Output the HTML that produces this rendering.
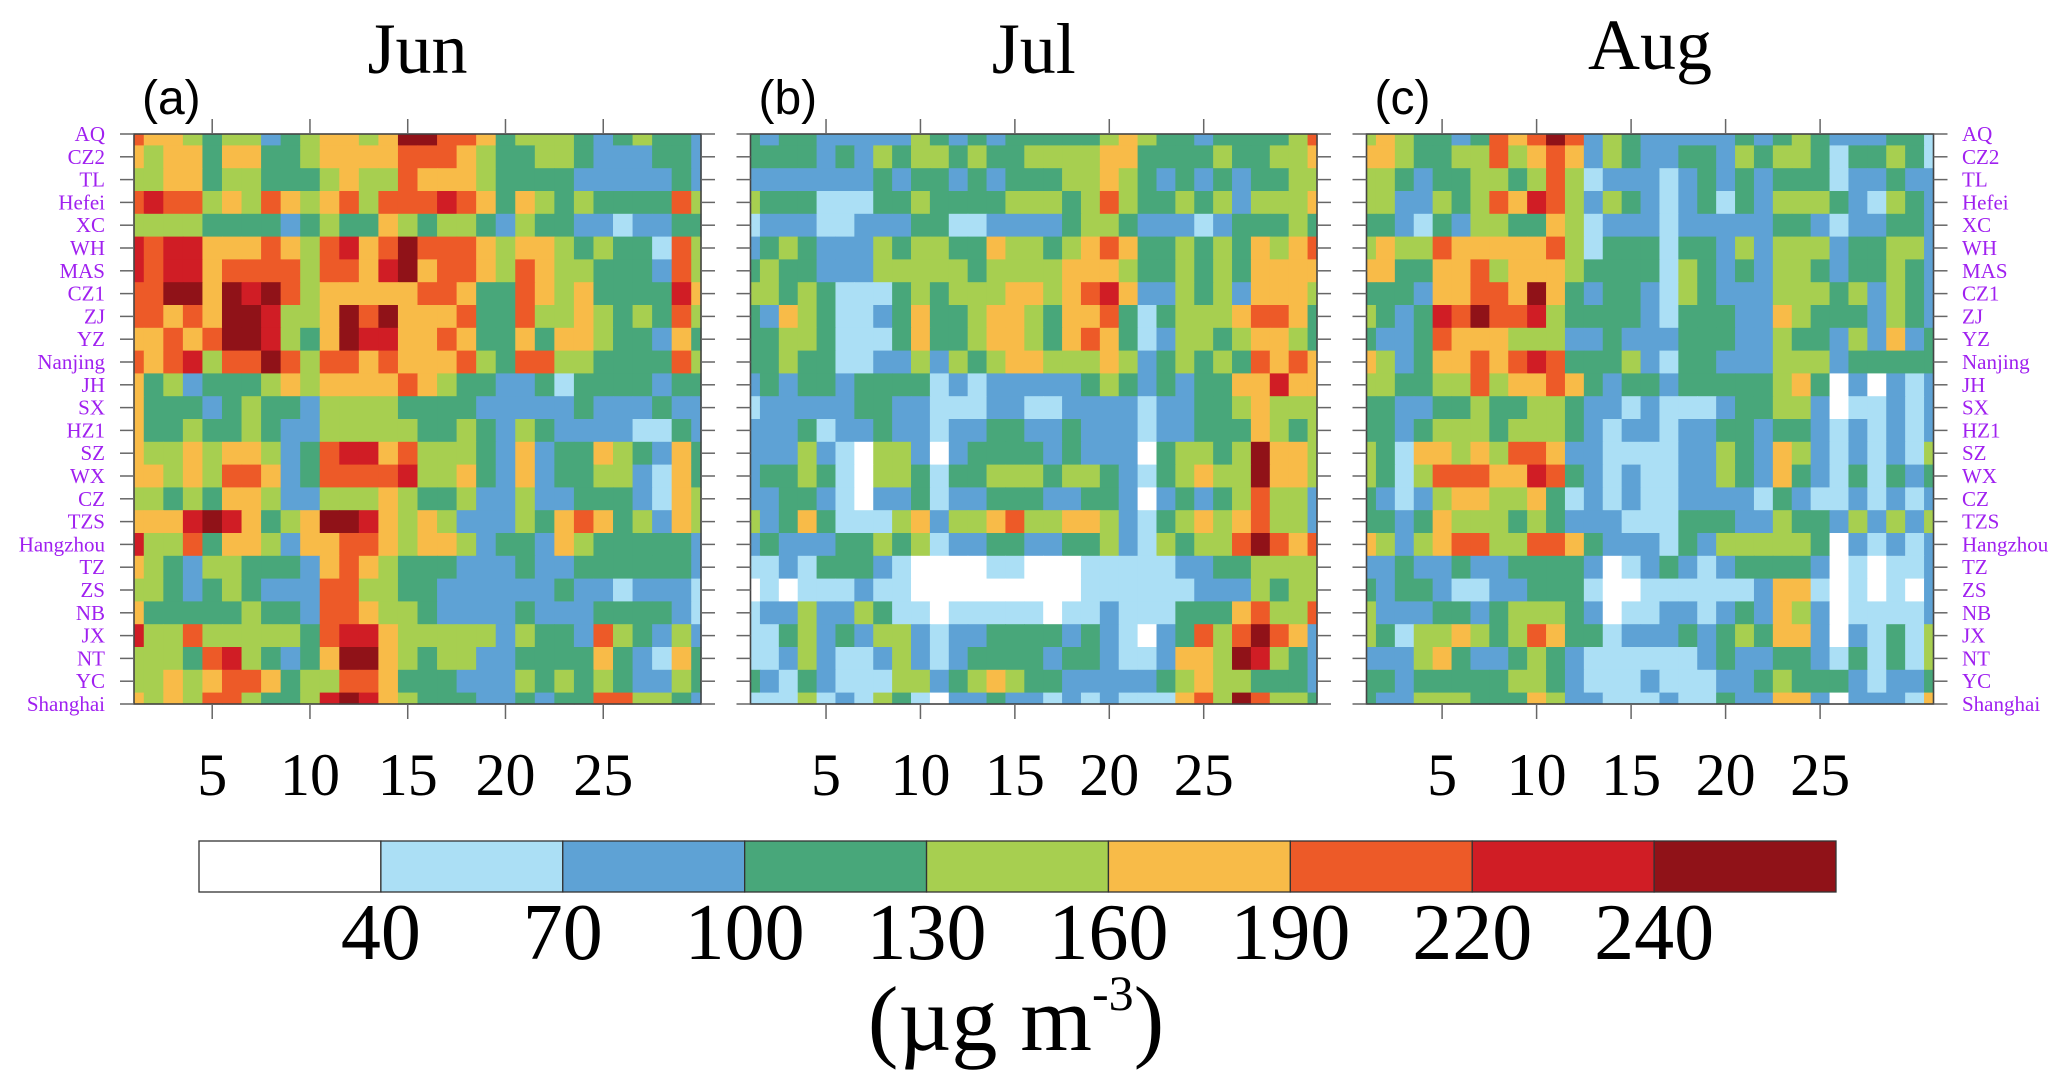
<!DOCTYPE html>
<html><head><meta charset="utf-8">
<style>
html,body{margin:0;padding:0;background:#fff;}
svg{display:block;}
</style></head>
<body>
<svg id="chart" width="2067" height="1092" viewBox="0 0 2067 1092" xmlns="http://www.w3.org/2000/svg"></svg>
<script>
const stations = ["AQ","CZ2","TL","Hefei","XC","WH","MAS","CZ1","ZJ","YZ","Nanjing","JH","SX","HZ1","SZ","WX","CZ","TZS","Hangzhou","TZ","ZS","NB","JX","NT","YC","Shanghai"];
const monthNames = ["Jun","Jul","Aug"];
const panelTags = ["(a)","(b)","(c)"];
const dayTicks = [5,10,15,20,25];
const levels = [40,70,100,130,160,190,220,240];
const levelLabels = ["40","70","100","130","160","190","220","240"];
const palette = ["#ffffff","#abdff5","#5ea2d5","#48a77a","#a7cf50","#f8bb48","#ed5a28","#d01d25","#901218"];

const junValues = [
[205,175,175,145,115,145,145,85,115,145,175,175,145,175,250,250,205,205,175,115,145,145,145,115,85,115,145,115,115,85],
[175,145,175,175,115,175,175,115,115,145,175,175,175,175,205,205,205,175,145,115,115,145,145,115,85,85,85,115,115,85],
[145,145,175,175,115,145,145,115,115,115,145,175,145,145,205,175,175,175,145,115,115,115,115,85,85,85,85,85,115,85],
[205,230,205,205,145,175,145,205,175,145,175,205,145,205,205,205,230,205,175,115,175,145,115,145,115,115,115,115,205,145],
[145,145,145,145,115,115,115,115,85,115,145,115,115,175,145,115,145,145,115,85,145,115,115,85,85,55,85,85,115,115],
[230,205,230,230,175,175,175,205,175,145,205,230,175,205,250,205,205,205,175,145,175,175,145,115,145,115,115,55,205,145],
[230,205,230,230,175,205,205,205,205,145,205,205,175,230,250,175,205,205,175,145,205,175,145,145,115,115,115,85,205,145],
[205,205,250,250,175,250,230,250,205,145,175,175,175,175,175,205,205,175,115,115,205,175,145,175,115,115,115,115,230,175],
[205,205,175,205,175,250,250,230,145,145,175,250,205,250,175,175,175,205,115,115,205,145,145,175,145,115,145,115,205,145],
[175,175,205,175,205,250,250,230,145,115,175,250,230,230,175,175,205,175,115,115,175,115,175,175,145,115,115,85,175,115],
[205,175,205,230,145,205,205,250,205,145,205,205,175,205,175,175,175,205,145,115,205,205,145,145,115,115,115,115,205,145],
[175,115,145,85,115,115,115,145,175,145,175,175,175,175,205,175,145,115,115,85,85,115,55,115,115,115,115,85,115,115],
[175,115,115,115,85,115,145,115,115,85,145,145,145,145,115,115,115,115,85,85,85,85,85,115,85,85,85,115,85,85],
[175,115,115,145,115,115,145,115,85,85,145,145,145,145,145,115,115,145,115,85,145,115,85,85,85,85,55,55,115,85],
[175,145,145,175,145,175,175,145,85,115,205,230,230,175,205,145,145,145,115,85,175,85,115,115,175,145,115,85,175,115],
[175,175,145,175,145,205,205,175,85,115,205,205,205,205,230,145,145,175,115,85,175,85,115,115,145,145,85,55,175,115],
[145,145,115,145,115,175,175,145,85,85,145,145,145,175,145,115,115,145,85,85,145,85,85,115,115,115,85,55,175,145],
[175,175,175,230,250,230,175,115,145,175,250,250,230,175,145,175,145,85,85,85,145,115,175,205,175,115,145,85,175,145],
[230,145,145,205,115,175,175,145,85,175,175,205,205,175,145,175,175,145,85,115,115,85,175,145,115,115,115,115,115,85],
[175,145,115,85,145,145,115,115,115,85,175,205,175,145,115,115,115,85,85,85,115,85,85,115,115,115,115,115,115,85],
[145,145,115,85,115,145,115,85,85,85,205,205,145,145,115,115,85,85,85,85,85,85,115,85,85,55,85,85,85,55],
[175,115,115,115,115,115,145,115,115,85,205,205,175,145,145,115,85,85,85,85,115,85,85,85,115,115,115,115,85,55],
[230,145,145,205,145,145,145,145,145,115,205,230,230,175,145,145,145,145,145,85,145,115,115,85,205,145,115,85,145,85],
[145,145,145,115,205,230,145,115,85,115,175,250,250,175,145,115,145,145,85,85,115,115,115,115,175,115,85,55,175,115],
[145,145,175,145,175,205,205,175,115,145,145,205,205,175,115,115,115,85,85,85,145,115,145,115,145,115,85,85,145,115],
[175,145,175,145,205,205,145,115,115,145,230,250,230,175,145,115,115,115,85,85,115,85,115,115,205,205,145,145,115,85]
];
const julValues = [
[115,85,115,115,85,85,85,85,85,145,115,85,115,85,115,115,115,115,115,145,175,145,115,115,85,115,115,115,115,145,205],
[115,115,115,115,85,115,85,145,115,145,145,115,145,115,115,145,145,145,145,175,175,115,115,115,115,145,115,115,145,145,175],
[85,85,85,85,85,85,85,115,85,115,115,85,115,85,115,115,115,145,145,175,145,115,85,115,85,115,85,115,115,145,145],
[145,115,115,115,55,55,55,115,115,145,115,115,115,115,145,145,145,115,145,205,145,115,115,145,115,145,85,145,145,145,175],
[55,85,85,85,55,55,85,85,85,115,115,55,55,85,85,85,85,115,145,145,115,85,85,85,55,85,115,115,115,145,115],
[85,115,145,115,85,85,85,145,115,145,145,115,115,175,145,145,115,145,175,205,175,115,115,145,115,145,115,175,145,175,205],
[115,145,115,115,85,85,85,145,145,145,145,145,115,145,145,145,145,175,175,175,145,115,115,145,115,145,115,175,175,175,175],
[145,145,115,145,115,55,55,55,115,145,115,145,145,145,175,175,145,175,205,230,175,85,85,145,115,145,85,175,175,175,145],
[115,85,175,145,115,55,55,85,115,175,115,115,145,175,175,145,115,175,175,205,115,55,115,145,145,145,175,205,205,175,115],
[115,115,145,145,115,55,55,55,115,175,115,115,145,175,175,145,115,175,205,175,115,55,85,145,145,115,145,175,175,145,115],
[115,115,145,115,115,55,55,85,85,145,85,145,115,145,175,175,145,145,145,175,145,85,115,145,115,145,115,205,175,205,175],
[85,115,85,115,115,85,115,115,115,115,55,85,55,85,85,85,85,85,115,145,115,85,115,85,115,115,175,175,230,175,175],
[55,85,85,85,85,85,115,115,85,85,55,55,55,85,85,55,55,85,85,85,85,55,85,85,115,115,145,175,145,145,145],
[85,85,85,115,55,85,85,115,85,85,55,85,85,115,115,85,85,115,85,85,85,55,85,85,115,115,115,175,145,115,145],
[85,85,85,145,85,55,30,145,145,85,30,85,115,115,115,115,85,115,85,85,85,30,115,145,145,115,145,250,175,175,145],
[85,115,115,145,115,55,30,145,145,115,55,115,115,145,145,145,115,145,145,115,85,55,115,145,175,145,145,250,175,175,145],
[85,85,115,115,85,55,30,85,85,115,55,85,85,115,115,115,85,85,115,115,85,30,85,115,85,115,145,205,145,145,85],
[145,85,115,175,115,55,55,55,145,175,85,145,145,175,205,145,145,175,175,145,85,55,115,145,175,145,175,205,145,145,85],
[85,115,85,85,85,115,115,145,115,145,55,85,85,115,115,85,85,115,115,145,85,55,145,115,145,145,205,250,205,175,205],
[55,55,85,55,115,115,115,85,55,30,30,30,30,55,55,30,30,30,55,55,55,55,55,85,85,115,115,145,145,145,145],
[30,55,30,55,55,55,85,55,55,30,30,30,30,30,30,30,30,30,55,55,55,55,55,55,85,85,85,145,115,145,145],
[55,85,85,145,85,85,145,115,55,55,30,55,55,55,55,55,30,55,55,85,55,55,55,115,115,115,175,205,145,145,205],
[55,55,115,145,85,115,85,145,145,85,55,85,85,115,115,115,115,85,115,85,55,30,85,115,205,145,205,250,205,175,85],
[55,55,85,145,85,55,55,85,145,85,55,85,115,115,115,115,85,115,115,85,55,55,85,175,175,145,250,230,145,115,85],
[115,85,55,115,85,55,55,55,145,145,85,115,145,175,145,115,115,85,85,85,85,85,115,145,175,145,145,115,115,115,85],
[55,55,55,145,55,85,55,145,115,55,30,85,85,115,85,85,55,85,55,85,55,55,55,175,205,145,250,205,145,145,115]
];
const augValues = [
[145,175,145,115,115,85,115,205,175,205,250,205,85,145,115,85,85,85,85,85,115,85,115,145,115,85,85,85,115,115,55],
[175,175,145,115,115,145,145,205,145,175,205,175,85,145,115,85,85,115,115,85,145,115,145,145,115,55,115,115,145,115,55],
[145,145,115,85,115,115,145,145,115,145,205,145,55,85,85,85,55,85,115,85,115,85,115,115,115,55,85,85,115,85,85],
[145,145,85,85,145,115,145,205,175,230,205,145,85,145,115,85,55,85,115,55,115,85,145,145,145,115,85,55,145,115,85],
[115,115,85,55,115,85,145,145,115,115,175,145,55,85,85,85,55,85,85,85,85,85,115,115,85,55,85,85,115,115,85],
[145,175,145,145,205,175,175,175,175,175,205,145,55,115,115,115,55,115,115,85,145,85,145,145,145,85,115,115,145,145,85],
[175,175,115,115,175,175,205,145,175,175,175,145,115,115,115,115,55,145,115,85,115,85,145,145,115,85,115,115,145,115,85],
[115,115,115,85,175,175,205,205,175,250,175,115,85,115,115,85,55,145,115,85,85,85,145,145,145,115,145,85,145,115,85],
[145,115,85,115,230,205,250,205,205,230,145,115,115,115,115,85,55,115,115,115,85,85,175,145,115,115,115,85,145,115,85],
[115,85,85,115,205,175,175,175,145,145,145,85,85,115,85,85,85,115,115,115,85,85,145,115,115,85,145,85,175,85,115],
[175,145,85,115,175,175,205,175,205,230,205,115,115,115,145,85,55,115,115,85,85,85,145,145,145,85,115,115,115,115,115],
[145,145,115,115,145,145,205,145,175,175,205,175,115,85,115,115,85,115,115,115,115,115,145,175,115,30,85,30,85,55,85],
[115,115,85,85,115,115,145,115,115,145,145,115,85,85,55,85,55,55,55,85,115,115,145,145,85,30,55,55,85,55,85],
[115,115,85,115,145,145,145,115,145,145,145,115,85,55,85,85,55,85,85,115,115,85,115,115,85,55,85,55,85,55,85],
[145,115,55,175,175,145,175,145,205,205,175,85,85,55,55,55,55,85,85,145,115,85,175,145,85,55,85,55,85,55,145],
[145,115,55,145,205,205,205,175,175,230,205,115,85,55,85,55,55,85,85,145,115,85,175,115,85,55,115,55,115,85,115],
[115,85,55,85,145,175,175,145,145,175,115,55,85,55,85,55,55,85,85,85,85,55,115,85,55,55,85,55,85,55,85],
[115,115,85,115,175,145,145,145,115,145,115,85,85,85,55,55,55,115,115,115,85,85,145,115,115,85,145,85,145,85,145],
[175,145,85,145,175,205,205,145,145,205,205,175,115,85,85,85,55,115,85,145,145,145,145,145,115,30,85,55,85,55,85],
[85,85,115,85,85,115,85,85,115,115,115,115,85,30,55,85,115,85,55,85,115,115,115,115,85,30,55,30,55,55,85],
[115,85,115,115,85,55,55,85,85,115,115,115,55,30,30,55,55,55,55,55,55,85,175,175,55,30,55,30,55,30,85],
[145,85,85,85,115,115,85,115,145,145,145,115,85,30,55,55,85,85,55,85,115,85,175,145,85,30,55,55,55,55,85],
[145,115,55,145,145,175,145,115,145,205,175,115,115,55,85,85,85,115,85,115,145,115,175,175,85,30,85,55,115,55,145],
[85,85,85,145,175,115,85,85,115,145,115,85,55,55,55,55,55,55,85,115,85,85,115,115,85,55,115,55,115,55,145],
[115,115,85,115,115,115,115,115,145,145,115,85,55,55,55,85,55,55,55,85,85,115,145,115,115,115,85,55,85,85,115],
[115,85,85,145,145,145,115,115,115,175,145,85,85,55,55,55,85,55,55,115,85,85,175,175,85,30,85,85,85,55,175]
];
const monthData = [junValues, julValues, augValues];

const NS = "http://www.w3.org/2000/svg";
const svg = document.getElementById("chart");
const panels = [
  {x0:134, x1:701},
  {x0:750.5, x1:1317},
  {x0:1366.5, x1:1933.5}
];
const yTop = 134, yBot = 704;
function mk(tag, attrs, parent){
  const e = document.createElementNS(NS, tag);
  for (const k in attrs) e.setAttribute(k, attrs[k]);
  (parent||svg).appendChild(e);
  return e;
}
function colorFor(v){
  let i = 0;
  while (i < levels.length && v >= levels[i]) i++;
  return palette[i];
}
function yScale(r){ return yTop + r*(yBot-yTop)/(stations.length-1); }

const serif = '"Liberation Serif", "DejaVu Serif", serif';
const sans = '"Liberation Sans", Arial, sans-serif';

panels.forEach((p, pi) => {
  const data = monthData[pi];
  const nDays = data[0].length;
  const dx = (p.x1 - p.x0)/(nDays-1);
  const xScale = d => p.x0 + (d-1)*dx;
  const dy = (yBot-yTop)/(stations.length-1);
  const g = mk("g", {});
  
  
  data.forEach((row, r) => {
    row.forEach((v, c) => {
      const cx = xScale(c+1), cy = yScale(r);
      const xa = Math.max(p.x0, cx-dx/2), xb = Math.min(p.x1, cx+dx/2);
      const ya = Math.max(yTop, cy-dy/2), yb = Math.min(yBot, cy+dy/2);
      const rect = mk("rect", {x:xa, y:ya, width:xb-xa+0.6, height:yb-ya+0.6, fill:colorFor(v)}, g);
      
      
    });
  });
  const frame = mk("rect", {x:p.x0, y:yTop, width:p.x1-p.x0, height:yBot-yTop, fill:"none", stroke:"#444", "stroke-width":1.6});
  
  
  dayTicks.forEach(d => {
    const x = xScale(d);
    const t1 = mk("line", {x1:x, x2:x, y1:yTop, y2:yTop-15, stroke:"#666", "stroke-width":1.5});
    
    
    const t2 = mk("line", {x1:x, x2:x, y1:yBot, y2:yBot+15, stroke:"#666", "stroke-width":1.5});
    
    
    const lab = mk("text", {x:x, y:795, "text-anchor":"middle", "font-family":serif, "font-size":60, fill:"#000"});
    lab.textContent = String(d);
    
    
  });
  stations.forEach((s, r) => {
    const y = yScale(r);
    const a = mk("line", {x1:p.x0-14, x2:p.x0, y1:y, y2:y, stroke:"#666", "stroke-width":1.5});
    
    
    const b = mk("line", {x1:p.x1, x2:p.x1+14, y1:y, y2:y, stroke:"#666", "stroke-width":1.5});
    
    
  });
  const title = mk("text", {x:(p.x0+p.x1)/2, y: pi===2 ? 69 : 73, "text-anchor":"middle", "font-family":serif, "font-size":72, fill:"#000"});
  title.textContent = monthNames[pi];
  
  
  const tag = mk("text", {x:p.x0+8, y:114, "font-family":sans, "font-size":48, fill:"#000"});
  tag.textContent = panelTags[pi];
  
  
});

stations.forEach((s, r) => {
  const y = yScale(r) + 7;
  const l = mk("text", {x:105, y:y, "text-anchor":"end", "font-family":serif, "font-size":21, fill:"#a020f0"});
  l.textContent = s;
  
  
  const rl = mk("text", {x:1962, y:y, "text-anchor":"start", "font-family":serif, "font-size":21, fill:"#a020f0"});
  rl.textContent = s;
  
  
});

const cbX0 = 199, cbX1 = 1836, cbY = 841, cbH = 51;
const boxW = (cbX1-cbX0)/palette.length;
const cb = mk("g", {});


palette.forEach((c, i) => {
  const r = mk("rect", {x:cbX0+i*boxW, y:cbY, width:boxW, height:cbH, fill:c, stroke:"#333", "stroke-width":1.3}, cb);
  
  
});
levelLabels.forEach((t, i) => {
  const l = mk("text", {x:cbX0+(i+1)*boxW, y:959, "text-anchor":"middle", "font-family":serif, "font-size":80, fill:"#000"});
  l.textContent = t;
  
  
});
const unit = mk("text", {x:1016, y:1050, "text-anchor":"middle", "font-family":serif, "font-size":92, fill:"#000"});


const t1 = mk("tspan", {}, unit); t1.textContent = "(\u00b5g m";
const t2 = mk("tspan", {"font-size":50, dy:-40}, unit); t2.textContent = "-3";
const t3 = mk("tspan", {dy:40}, unit); t3.textContent = ")";
</script>
</body></html>
